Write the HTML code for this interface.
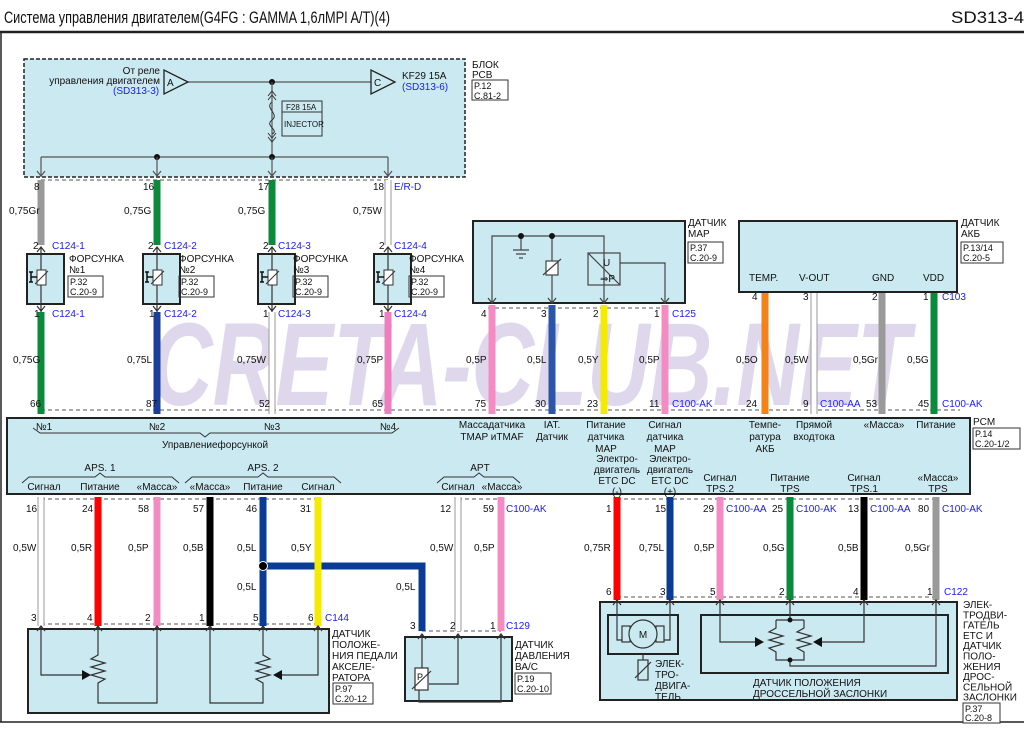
<!DOCTYPE html>
<html><head><meta charset="utf-8"><style>
html,body{margin:0;padding:0;background:#fff;}
svg{display:block;font-family:"Liberation Sans","DejaVu Sans",sans-serif;}
.t{font-size:10px;fill:#111;}
.b{font-size:10px;fill:#1a1aff;}
.s{font-size:9px;fill:#111;}
</style></head><body>
<svg width="1024" height="732" viewBox="0 0 1024 732" xmlns="http://www.w3.org/2000/svg">
<rect width="1024" height="732" fill="#fff"/>
<!-- header -->
<text x="4" y="23" style="font-size:17px" fill="#111" textLength="386" lengthAdjust="spacingAndGlyphs">Система управления двигателем(G4FG : GAMMA 1,6лMPI A/T)(4)</text>
<text x="951" y="23" style="font-size:17px" fill="#111" textLength="73" lengthAdjust="spacingAndGlyphs">SD313-4</text>
<line x1="0" y1="32" x2="1024" y2="32" stroke="#222" stroke-width="2.5"/>
<line x1="1" y1="33" x2="1" y2="722" stroke="#222" stroke-width="1.5"/>
<line x1="0" y1="722" x2="1024" y2="722" stroke="#222" stroke-width="1.5"/>

<!-- watermark -->
<text x="150" y="405" font-size="118" font-weight="bold" font-style="italic" fill="#b8a8d4" fill-opacity="0.45" textLength="760" lengthAdjust="spacingAndGlyphs">CRETA-CLUB.NET</text>

<!-- PCB block -->
<rect x="24" y="59" width="441" height="118" fill="#cbe9f0" stroke="#222" stroke-width="1.5" stroke-dasharray="4,2"/>
<line x1="187" y1="82" x2="371" y2="82" stroke="#555" stroke-width="1.2"/>
<polygon points="164,70 164,94 188,82" fill="#cbe9f0" stroke="#222" stroke-width="1.3"/>
<text x="167" y="86" class="t">A</text>
<polygon points="371,70 371,94 395,82" fill="#cbe9f0" stroke="#222" stroke-width="1.3"/>
<text x="374" y="86" class="t">C</text>
<circle cx="272" cy="82" r="3" fill="#111"/>
<text x="160" y="74" class="t" text-anchor="end">От реле</text>
<text x="160" y="84" class="t" text-anchor="end">управления двигателем</text>
<text x="113" y="94" class="b">(SD313-3)</text>
<text x="402" y="79" class="t">KF29 15A</text>
<text x="402" y="90" class="b">(SD313-6)</text>
<line x1="272" y1="82" x2="272" y2="157" stroke="#555" stroke-width="1.2"/>
<path d="M268,96 L272,91 L276,96 M268,100 L272,95 L276,100 M268,133 L272,138 L276,133 M268,137 L272,142 L276,137" stroke="#333" fill="none"/>
<path d="M272,102 C264,108 280,114 272,120 C264,126 280,130 272,134" stroke="#333" fill="none"/>
<rect x="282" y="101" width="40" height="35" fill="none" stroke="#333"/>
<line x1="282" y1="112" x2="322" y2="112" stroke="#333"/>
<text x="286" y="110" class="s" style="font-size:8px">F28 15A</text>
<text x="284" y="127" class="s" style="font-size:8px">INJECTOR</text>
<line x1="41" y1="157" x2="388" y2="157" stroke="#555" stroke-width="1.2"/>
<circle cx="157" cy="157" r="3" fill="#111"/><circle cx="272" cy="157" r="3" fill="#111"/>
<g stroke="#555" stroke-width="1.2" fill="none">
<path d="M41,157V177M37,171L41,176L45,171M157,157V177M153,171L157,176L161,171M272,157V177M268,171L272,176L276,171M388,157V177M384,171L388,176L392,171"/>
</g>
<text x="472" y="68" class="t">БЛОК</text><text x="472" y="78" class="t">РСВ</text>
<rect x="472" y="80" width="36" height="20" fill="none" stroke="#333"/>
<text x="474" y="89" class="s">P.12</text><text x="474" y="99" class="s">C.81-2</text>

<!-- dashed connector lines -->
<g stroke="#555" stroke-width="1" stroke-dasharray="4,3">
<line x1="41" y1="180" x2="388" y2="180"/>
<line x1="41" y1="410" x2="960" y2="410"/>
<line x1="488" y1="308" x2="666" y2="308"/>
<line x1="765" y1="290" x2="934" y2="290"/>
<line x1="41" y1="499" x2="318" y2="499"/>
<line x1="458" y1="499" x2="501" y2="499"/>
<line x1="617" y1="499" x2="936" y2="499"/>
<line x1="41" y1="624" x2="318" y2="624"/>
<line x1="422" y1="631" x2="501" y2="631"/>
<line x1="617" y1="597" x2="936" y2="597"/>
</g>

<!-- wires -->
<g stroke-width="7" fill="none">
<line x1="41" y1="180" x2="41" y2="245" stroke="#999"/>
<line x1="157" y1="180" x2="157" y2="245" stroke="#0a8a3a"/>
<line x1="272" y1="180" x2="272" y2="245" stroke="#0a8a3a"/>
<line x1="388" y1="180" x2="388" y2="245" stroke="#999"/>
<line x1="388" y1="180" x2="388" y2="245" stroke="#fff" stroke-width="5"/>
<line x1="41" y1="312" x2="41" y2="414" stroke="#0a8a3a"/>
<line x1="157" y1="312" x2="157" y2="414" stroke="#1a3f9a"/>
<line x1="272" y1="312" x2="272" y2="414" stroke="#999"/>
<line x1="272" y1="312" x2="272" y2="414" stroke="#fff" stroke-width="5"/>
<line x1="388" y1="312" x2="388" y2="414" stroke="#ee7fbf"/>
<line x1="492" y1="305" x2="492" y2="414" stroke="#f48cc4"/>
<line x1="552" y1="305" x2="552" y2="414" stroke="#2a55a8"/>
<line x1="604" y1="305" x2="604" y2="414" stroke="#f5eb00"/>
<line x1="665" y1="305" x2="665" y2="414" stroke="#f48cc4"/>
<line x1="765" y1="290" x2="765" y2="414" stroke="#f58218"/>
<line x1="814" y1="290" x2="814" y2="414" stroke="#999"/>
<line x1="814" y1="290" x2="814" y2="414" stroke="#fff" stroke-width="5"/>
<line x1="882" y1="290" x2="882" y2="414" stroke="#9a9a9a"/>
<line x1="934" y1="290" x2="934" y2="414" stroke="#0a8a3a"/>
<!-- bottom -->
<line x1="41" y1="497" x2="41" y2="626" stroke="#999"/>
<line x1="41" y1="497" x2="41" y2="626" stroke="#fff" stroke-width="5"/>
<line x1="98" y1="497" x2="98" y2="626" stroke="#f00"/>
<line x1="157" y1="497" x2="157" y2="626" stroke="#f48cc4"/>
<line x1="210" y1="497" x2="210" y2="626" stroke="#000"/>
<path d="M263,566 H422 V631" stroke="#0a3c96"/>
<line x1="263" y1="497" x2="263" y2="626" stroke="#0a3c96"/>
<line x1="318" y1="497" x2="318" y2="626" stroke="#f5eb00"/>
<line x1="458" y1="497" x2="458" y2="631" stroke="#999"/>
<line x1="458" y1="497" x2="458" y2="631" stroke="#fff" stroke-width="5"/>
<line x1="501" y1="497" x2="501" y2="631" stroke="#f48cc4"/>
<line x1="617" y1="497" x2="617" y2="600" stroke="#f00"/>
<line x1="670" y1="497" x2="670" y2="600" stroke="#0a3c96"/>
<line x1="720" y1="497" x2="720" y2="600" stroke="#f48cc4"/>
<line x1="790" y1="497" x2="790" y2="600" stroke="#0a8a3a"/>
<line x1="864" y1="497" x2="864" y2="600" stroke="#000"/>
<line x1="936" y1="497" x2="936" y2="600" stroke="#9a9a9a"/>
</g>
<circle cx="263" cy="566" r="4.5" fill="#000" stroke="#fff" stroke-width="1"/>

<!-- injectors -->
<g id="inj">
<rect x="27" y="254" width="37" height="50" fill="#cbe9f0" stroke="#222" stroke-width="2"/>
<path d="M41,247V270M41,285V312M37,252L41,247L45,252M37,306L41,311L45,306" stroke="#333" fill="none" stroke-width="1.2"/>
<rect x="37" y="270" width="9" height="15" fill="#fff" stroke="#333"/>
<line x1="35" y1="284" x2="48" y2="271" stroke="#333"/>
<path d="M31,272V282M29,272H33M29,282H33M31,277H37" stroke="#111" stroke-width="1.5"/>
</g>
<use href="#inj" x="116"/><use href="#inj" x="231"/><use href="#inj" x="347"/>
<g class="t">
<text x="34" y="190" class="t">8</text><text x="143" y="190" class="t">16</text><text x="258" y="190" class="t">17</text><text x="373" y="190" class="t">18</text>
<text x="394" y="190" class="b">E/R-D</text>
<text x="9" y="214" class="t">0,75Gr</text><text x="124" y="214" class="t">0,75G</text><text x="238" y="214" class="t">0,75G</text><text x="353" y="214" class="t">0,75W</text>
<text x="33" y="249" class="t">2</text><text x="148" y="249" class="t">2</text><text x="263" y="249" class="t">2</text><text x="379" y="249" class="t">2</text>
<text x="52" y="249" class="b">C124-1</text><text x="164" y="249" class="b">C124-2</text><text x="278" y="249" class="b">C124-3</text><text x="394" y="249" class="b">C124-4</text>
<text x="34" y="317" class="t">1</text><text x="149" y="317" class="t">1</text><text x="263" y="317" class="t">1</text><text x="379" y="317" class="t">1</text>
<text x="52" y="317" class="b">C124-1</text><text x="164" y="317" class="b">C124-2</text><text x="278" y="317" class="b">C124-3</text><text x="394" y="317" class="b">C124-4</text>
<text x="13" y="363" class="t">0,75G</text><text x="127" y="363" class="t">0,75L</text><text x="237" y="363" class="t">0,75W</text><text x="357" y="363" class="t">0,75P</text>
<text x="30" y="407" class="t">66</text><text x="146" y="407" class="t">87</text><text x="259" y="407" class="t">52</text><text x="372" y="407" class="t">65</text>
</g>
<g>
<text x="69" y="262" class="t">ФОРСУНКА</text><text x="69" y="273" class="t">№1</text>
<rect x="68" y="276" width="35" height="21" fill="none" stroke="#333"/><text x="70" y="285" class="s">P.32</text><text x="70" y="295" class="s">C.20-9</text>
<text x="179" y="262" class="t">ФОРСУНКА</text><text x="179" y="273" class="t">№2</text>
<rect x="179" y="276" width="35" height="21" fill="none" stroke="#333"/><text x="181" y="285" class="s">P.32</text><text x="181" y="295" class="s">C.20-9</text>
<text x="293" y="262" class="t">ФОРСУНКА</text><text x="293" y="273" class="t">№3</text>
<rect x="293" y="276" width="35" height="21" fill="none" stroke="#333"/><text x="295" y="285" class="s">P.32</text><text x="295" y="295" class="s">C.20-9</text>
<text x="409" y="262" class="t">ФОРСУНКА</text><text x="409" y="273" class="t">№4</text>
<rect x="409" y="276" width="35" height="21" fill="none" stroke="#333"/><text x="411" y="285" class="s">P.32</text><text x="411" y="295" class="s">C.20-9</text>
</g>

<!-- MAP sensor -->
<rect x="473" y="221" width="212" height="82" fill="#cbe9f0" stroke="#222" stroke-width="2"/>
<g stroke="#444" stroke-width="1.2" fill="none">
<path d="M492,303V236H604V303"/>
<path d="M521,236V250M513,250H529M516,254H526M519,258H523"/>
<path d="M552,236V261M552,275V303"/>
<rect x="546" y="261" width="12" height="14" fill="#fff"/>
<path d="M543,275L561,259"/>
<rect x="588" y="253" width="32" height="32"/>
<path d="M588,253L620,285"/>
<path d="M620,263H665V303"/>
<path d="M488,298L492,303L496,298M548,298L552,303L556,298M600,298L604,303L608,298M661,298L665,303L669,298"/>
</g>
<circle cx="521" cy="236" r="3" fill="#111"/><circle cx="552" cy="236" r="3" fill="#111"/>
<text x="603" y="266" class="t">U</text><text x="600" y="282" class="t">⇒P</text>
<text x="688" y="226" class="t">ДАТЧИК</text><text x="688" y="237" class="t">MAP</text>
<rect x="688" y="242" width="35" height="21" fill="none" stroke="#333"/><text x="690" y="251" class="s">P.37</text><text x="690" y="261" class="s">C.20-9</text>
<text x="481" y="317" class="t">4</text><text x="541" y="317" class="t">3</text><text x="593" y="317" class="t">2</text><text x="654" y="317" class="t">1</text>
<text x="672" y="317" class="b">C125</text>
<text x="466" y="363" class="t">0,5P</text><text x="527" y="363" class="t">0,5L</text><text x="578" y="363" class="t">0,5Y</text><text x="639" y="363" class="t">0,5P</text>
<text x="475" y="407" class="t">75</text><text x="535" y="407" class="t">30</text><text x="587" y="407" class="t">23</text><text x="649" y="407" class="t">11</text>
<text x="672" y="407" class="b">C100-AK</text>

<!-- AKB sensor -->
<rect x="739" y="221" width="218" height="71" fill="#cbe9f0" stroke="#222" stroke-width="2"/>
<text x="749" y="281" class="t">TEMP.</text><text x="799" y="281" class="t">V-OUT</text><text x="872" y="281" class="t">GND</text><text x="923" y="281" class="t">VDD</text>
<text x="961" y="226" class="t">ДАТЧИК</text><text x="961" y="237" class="t">АКБ</text>
<rect x="961" y="242" width="42" height="21" fill="none" stroke="#333"/><text x="963" y="251" class="s">P.13/14</text><text x="963" y="261" class="s">C.20-5</text>
<text x="752" y="300" class="t">4</text><text x="803" y="300" class="t">3</text><text x="872" y="300" class="t">2</text><text x="923" y="300" class="t">1</text>
<text x="942" y="300" class="b">C103</text>
<text x="736" y="363" class="t">0,5O</text><text x="785" y="363" class="t">0,5W</text><text x="853" y="363" class="t">0,5Gr</text><text x="907" y="363" class="t">0,5G</text>
<text x="746" y="407" class="t">24</text><text x="803" y="407" class="t">9</text><text x="820" y="407" class="b">C100-AA</text><text x="866" y="407" class="t">53</text><text x="918" y="407" class="t">45</text><text x="942" y="407" class="b">C100-AK</text>

<!-- PCM -->
<rect x="7" y="418" width="963" height="76" fill="#cbe9f0" stroke="#222" stroke-width="2"/>
<text x="973" y="425" class="t">PCM</text>
<rect x="973" y="428" width="47" height="21" fill="none" stroke="#333"/><text x="975" y="437" class="s">P.14</text><text x="975" y="447" class="s">C.20-1/2</text>
<g class="t" text-anchor="middle">
<text x="44" y="430">№1</text><text x="157" y="430">№2</text><text x="272" y="430">№3</text><text x="388" y="430">№4</text>
<text x="215" y="448">Управлениефорсункой</text>
<text x="100" y="471">APS. 1</text><text x="263" y="471">APS. 2</text><text x="480" y="471">APT</text>
<text x="44" y="490">Сигнал</text><text x="100" y="490">Питание</text><text x="157" y="490">«Масса»</text>
<text x="210" y="490">«Масса»</text><text x="263" y="490">Питание</text><text x="318" y="490">Сигнал</text>
<text x="458" y="490">Сигнал</text><text x="502" y="490">«Масса»</text>
<text x="492" y="428">Массадатчика</text><text x="492" y="440">TMAP иTMAF</text>
<text x="552" y="428">IAT.</text><text x="552" y="440">Датчик</text>
<text x="606" y="428">Питание</text><text x="606" y="440">датчика</text><text x="606" y="452">MAP</text>
<text x="665" y="428">Сигнал</text><text x="665" y="440">датчика</text><text x="665" y="452">MAP</text>
<text x="617" y="462">Электро-</text><text x="617" y="473">двигатель</text><text x="617" y="484">ETC DC</text><text x="617" y="495">(-)</text>
<text x="670" y="462">Электро-</text><text x="670" y="473">двигатель</text><text x="670" y="484">ETC DC</text><text x="670" y="495">(+)</text>
<text x="720" y="481">Сигнал</text><text x="720" y="492">TPS.2</text>
<text x="790" y="481">Питание</text><text x="790" y="492">TPS</text>
<text x="864" y="481">Сигнал</text><text x="864" y="492">TPS.1</text>
<text x="938" y="481">«Масса»</text><text x="938" y="492">TPS</text>
<text x="765" y="428">Темпе-</text><text x="765" y="440">ратура</text><text x="765" y="452">АКБ</text>
<text x="814" y="428">Прямой</text><text x="814" y="440">входтока</text>
<text x="884" y="428">«Масса»</text><text x="936" y="428">Питание</text>
</g>
<g stroke="#333" fill="none" stroke-width="1">
<path d="M33,428L40,433H200L205,437L210,433H392L399,428"/>
<path d="M22,483L29,477H95L100,473L105,477H172L179,483"/>
<path d="M185,483L192,477H258L263,473L268,477H334L341,483"/>
<path d="M437,483L444,477H474L479,473L484,477H513L520,483"/>
</g>

<!-- bottom labels -->
<g class="t">
<text x="26" y="512">16</text><text x="82" y="512">24</text><text x="138" y="512">58</text><text x="193" y="512">57</text><text x="246" y="512">46</text><text x="300" y="512">31</text>
<text x="440" y="512">12</text><text x="483" y="512">59</text><text x="506" y="512" class="b">C100-AK</text>
<text x="606" y="512">1</text><text x="655" y="512">15</text><text x="703" y="512">29</text><text x="726" y="512" class="b">C100-AA</text>
<text x="772" y="512">25</text><text x="796" y="512" class="b">C100-AK</text><text x="848" y="512">13</text><text x="870" y="512" class="b">C100-AA</text>
<text x="918" y="512">80</text><text x="942" y="512" class="b">C100-AK</text>
<text x="13" y="551">0,5W</text><text x="71" y="551">0,5R</text><text x="128" y="551">0,5P</text><text x="183" y="551">0,5B</text><text x="237" y="551">0,5L</text><text x="291" y="551">0,5Y</text>
<text x="430" y="551">0,5W</text><text x="474" y="551">0,5P</text>
<text x="584" y="551">0,75R</text><text x="639" y="551">0,75L</text><text x="694" y="551">0,5P</text><text x="763" y="551">0,5G</text><text x="838" y="551">0,5B</text><text x="905" y="551">0,5Gr</text>
<text x="237" y="590">0,5L</text><text x="396" y="590">0,5L</text>
<text x="31" y="621">3</text><text x="87" y="621">4</text><text x="145" y="621">2</text><text x="199" y="621">1</text><text x="253" y="621">5</text><text x="308" y="621">6</text>
<text x="325" y="621" class="b">C144</text>
<text x="410" y="629">3</text><text x="450" y="629">2</text><text x="490" y="629">1</text><text x="506" y="629" class="b">C129</text>
<text x="606" y="595">6</text><text x="660" y="595">3</text><text x="710" y="595">5</text><text x="779" y="595">2</text><text x="853" y="595">4</text><text x="927" y="595">1</text>
<text x="944" y="595" class="b">C122</text>
</g>

<!-- APS sensor -->
<rect x="28" y="629" width="301" height="84" fill="#cbe9f0" stroke="#222" stroke-width="2"/>
<g stroke="#333" stroke-width="1.2" fill="none">
<path d="M41,626V675H82M98,626V655L91,659L105,663L91,667L105,671L91,675L105,679L98,683V703H157V626"/>
<path d="M210,626V703H263V683L256,679L270,675L256,671L270,667L256,663L270,659L263,655V626M318,626V675H282"/>
<path d="M37,631L41,626L45,631M94,631L98,626L102,631M153,631L157,626L161,631M206,631L210,626L214,631M259,631L263,626L267,631M314,631L318,626L322,631"/>
</g>
<polygon points="82,670 91,675 82,680" fill="#111"/><polygon points="282,670 273,675 282,680" fill="#111"/>
<g class="t"><text x="332" y="637">ДАТЧИК</text><text x="332" y="648">ПОЛОЖЕ-</text><text x="332" y="659">НИЯ ПЕДАЛИ</text><text x="332" y="670">АКСЕЛЕ-</text><text x="332" y="681">РАТОРА</text></g>
<rect x="333" y="683" width="40" height="21" fill="none" stroke="#333"/><text x="335" y="692" class="s">P.97</text><text x="335" y="702" class="s">C.20-12</text>

<!-- APT sensor -->
<rect x="405" y="637" width="107" height="64" fill="#cbe9f0" stroke="#222" stroke-width="2"/>
<g stroke="#333" stroke-width="1.2" fill="none">
<path d="M422,634V668M458,634V684H429M501,634V702H419V690"/>
<rect x="415" y="668" width="13" height="22" fill="#fff"/>
<path d="M412,689L431,671"/>
<path d="M418,639L422,634L426,639M454,639L458,634L462,639M497,639L501,634L505,639"/>
</g>
<text x="417" y="680" class="s">P</text>
<g class="t"><text x="515" y="648">ДАТЧИК</text><text x="515" y="659">ДАВЛЕНИЯ</text><text x="515" y="670">ВА/С</text></g>
<rect x="515" y="673" width="36" height="21" fill="none" stroke="#333"/><text x="517" y="682" class="s">P.19</text><text x="517" y="692" class="s">C.20-10</text>

<!-- ETC -->
<rect x="600" y="602" width="357" height="98" fill="#cbe9f0" stroke="#222" stroke-width="2"/>
<rect x="608" y="615" width="70" height="39" fill="none" stroke="#222" stroke-width="2"/>
<rect x="701" y="615" width="247" height="58" fill="none" stroke="#222" stroke-width="2"/>
<g stroke="#333" stroke-width="1.2" fill="none">
<path d="M617,600V640H622M670,600V640H664"/>
<rect x="622" y="626" width="8" height="16"/><rect x="656" y="626" width="8" height="16"/>
<path d="M643,654V660"/>
<rect x="638" y="660" width="10" height="20"/>
<path d="M635,678L651,662"/>
<path d="M720,600V642H755M864,600V642H822"/>
<path d="M790,600V620M776,620H804M776,620V628L769,632L783,636L769,640L783,644L769,648L776,652V660H804V652L797,648L811,644L797,640L811,636L797,632L804,628V620M790,660V666H936V600"/>
<path d="M613,605L617,600L621,605M666,605L670,600L674,605M716,605L720,600L724,605M786,605L790,600L794,605M860,605L864,600L868,605M932,605L936,600L940,605"/>
</g>
<circle cx="643" cy="634" r="14" fill="#cbe9f0" stroke="#333" stroke-width="1.2"/>
<text x="643" y="638" class="t" text-anchor="middle">M</text>
<polygon points="755,637 764,642 755,647" fill="#111"/><polygon points="822,637 813,642 822,647" fill="#111"/>
<circle cx="790" cy="620" r="2.5" fill="#111"/><circle cx="790" cy="660" r="2.5" fill="#111"/>
<g class="t"><text x="655" y="667">ЭЛЕК-</text><text x="655" y="678">ТРО-</text><text x="655" y="689">ДВИГА-</text><text x="655" y="700">ТЕЛЬ</text>
<text x="753" y="686">ДАТЧИК ПОЛОЖЕНИЯ</text><text x="753" y="697">ДРОССЕЛЬНОЙ ЗАСЛОНКИ</text>
<text x="963" y="608">ЭЛЕК-</text><text x="963" y="618.3">ТРОДВИ-</text><text x="963" y="628.6">ГАТЕЛЬ</text><text x="963" y="638.9">ETC И</text><text x="963" y="649.2">ДАТЧИК</text><text x="963" y="659.5">ПОЛО-</text><text x="963" y="669.8">ЖЕНИЯ</text><text x="963" y="680.1">ДРОС-</text><text x="963" y="690.4">СЕЛЬНОЙ</text><text x="963" y="700.7">ЗАСЛОНКИ</text></g>
<rect x="963" y="703" width="37" height="20" fill="#fff" stroke="#333"/><text x="965" y="712" class="s">P.37</text><text x="965" y="721" class="s">C.20-8</text>
</svg>
</body></html>
